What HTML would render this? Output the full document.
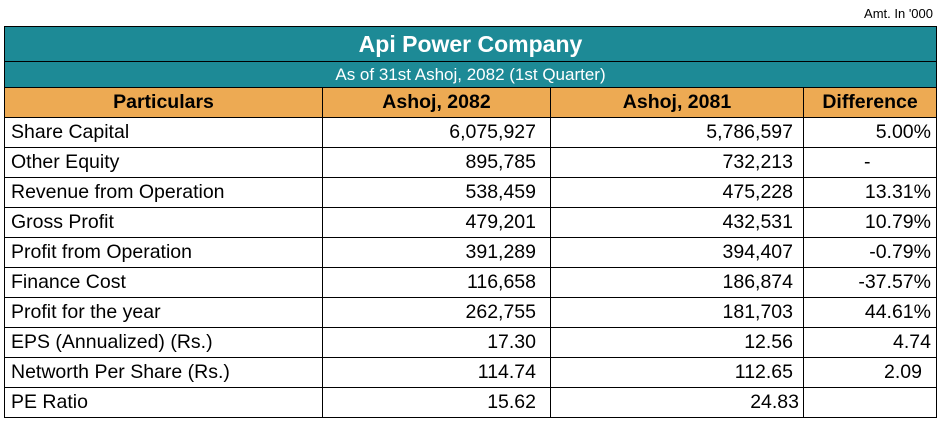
<!DOCTYPE html>
<html><head><style>
body{margin:0;width:943px;height:422px;background:#fff;font-family:"Liberation Sans",sans-serif;position:relative;overflow:hidden}
.amt{position:absolute;right:10px;top:6px;font-size:13px;color:#000}
table{position:absolute;left:4px;top:26px;border-collapse:collapse;table-layout:fixed}
td{border:1.5px solid #000;padding:0 6px;font-size:19.5px;color:#000;white-space:nowrap;overflow:hidden}
.t{background:#1d8a96;color:#fff;text-align:center;font-weight:bold;font-size:23px;height:34px;border-bottom:1.5px solid #000}
.s{background:#1d8a96;color:#fff;text-align:center;font-size:17px;height:25px}
.h td{background:#edaa53;font-weight:bold;text-align:center;height:29px}
.r td{height:29px}
.n{text-align:right;padding-right:14px}
.c3{text-align:right;padding-right:10px}
.d{text-align:right;padding-right:5px}
</style></head><body>
<div class="amt">Amt. In '000</div>
<table>
<colgroup><col style="width:318px"><col style="width:228px"><col style="width:253px"><col style="width:133px"></colgroup>
<tr><td colspan="4" class="t">Api Power Company</td></tr>
<tr><td colspan="4" class="s">As of 31st Ashoj, 2082 (1st Quarter)</td></tr>
<tr class="h"><td>Particulars</td><td>Ashoj, 2082</td><td>Ashoj, 2081</td><td>Difference</td></tr>
<tr class="r"><td>Share Capital</td><td class="n">6,075,927</td><td class="c3">5,786,597</td><td class="d">5.00%</td></tr>
<tr class="r"><td>Other Equity</td><td class="n">895,785</td><td class="c3">732,213</td><td style="padding-left:60px">-</td></tr>
<tr class="r"><td>Revenue from Operation</td><td class="n">538,459</td><td class="c3">475,228</td><td class="d">13.31%</td></tr>
<tr class="r"><td>Gross Profit</td><td class="n">479,201</td><td class="c3">432,531</td><td class="d">10.79%</td></tr>
<tr class="r"><td>Profit from Operation</td><td class="n">391,289</td><td class="c3">394,407</td><td class="d">-0.79%</td></tr>
<tr class="r"><td>Finance Cost</td><td class="n">116,658</td><td class="c3">186,874</td><td class="d">-37.57%</td></tr>
<tr class="r"><td>Profit for the year</td><td class="n">262,755</td><td class="c3">181,703</td><td class="d">44.61%</td></tr>
<tr class="r"><td>EPS (Annualized) (Rs.)</td><td class="n">17.30</td><td class="c3">12.56</td><td class="d">4.74</td></tr>
<tr class="r"><td>Networth Per Share (Rs.)</td><td class="n">114.74</td><td class="c3">112.65</td><td class="d" style="padding-right:14px">2.09</td></tr>
<tr class="r"><td>PE Ratio</td><td class="n">15.62</td><td class="c3" style="padding-right:4px">24.83</td><td></td></tr>
</table>
</body></html>
